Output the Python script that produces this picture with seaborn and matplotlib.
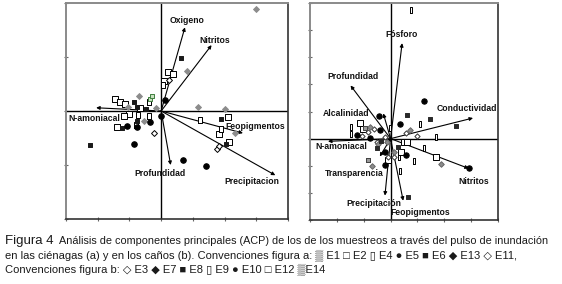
import seaborn as sns
import matplotlib.pyplot as plt
import pandas as pd

# ---- panel a (cienagas) ----
a_vars = ["Oxigeno", "Nitritos", "N-amoniacal", "Feopigmentos", "Precipitacion", "Profundidad"]
a_vec_x = [0.75, 1.59, -2.05, 2.58, 3.60, 0.30]
a_vec_y = [1.55, 1.22, 0.06, -0.41, -1.19, -1.00]
a_lab_x = [0.28, 1.22, -2.92, 2.04, 2.00, -0.84]
a_lab_y = [1.67, 1.30, -0.13, -0.28, -1.30, -1.15]

a_e13_x = [3.0, 0.80, 1.15, 2.02, 2.33, -0.71, -0.16, -0.55, -1.06]
a_e13_y = [1.89, 0.75, 0.07, 0.04, -0.41, 0.27, 0.05, -0.19, 0.07]
a_e6_x = [0.63, -0.87, -0.48, -0.76, 1.88, 2.03, -2.25, -1.23, -0.76]
a_e6_y = [0.99, 0.17, 0.03, 0.08, -0.14, -0.61, -0.63, -0.31, -0.18]
a_e5_x = [0.12, 0.0, -0.34, -0.76, -1.08, -0.87, 0.68, 1.43]
a_e5_y = [0.20, -0.09, -0.21, -0.29, -0.28, -0.62, -0.91, -1.02]
a_e2_x = [0.23, 0.37, 0.10, -1.47, -1.31, -1.13, -1.02, -0.66, -1.39, 2.11, 1.81, 2.13, -1.18]
a_e2_y = [0.72, 0.69, 0.56, 0.23, 0.17, 0.13, -0.06, 0.05, -0.29, -0.12, -0.43, -0.57, -0.09]
a_e4_x = [1.24, 1.90, -0.39, -0.78, 0.07, -0.73, -0.38]
a_e4_y = [-0.17, -0.34, -0.10, -0.26, 0.48, -0.07, 0.17]
a_e11_x = [-0.21, 1.76, 1.83, 0.25]
a_e11_y = [-0.40, -0.70, -0.64, 0.57]
a_e1_x = [-0.36, -0.28]
a_e1_y = [0.22, 0.27]

# ---- panel b (canos) ----
b_vars = ["Fósforo", "Profundidad", "Alcalinidad", "Conductividad", "N-amoniacal",
          "Nitritos", "Transparencia", "Precipitación", "Feopigmentos"]
b_vec_x = [0.43, -1.49, -0.27, 3.07, -2.33, 2.91, -0.40, -0.21, 0.47]
b_vec_y = [3.52, 1.96, 0.93, 0.76, -0.10, -1.10, -0.66, -2.10, -2.29]
b_lab_x = [-0.19, -2.35, -2.52, 1.70, -2.79, 2.54, -2.45, -1.64, 0.0]
b_lab_y = [3.83, 2.30, 0.93, 1.12, -0.28, -1.59, -1.30, -2.41, -2.74]

b_e9_x = [0.77, -1.46, -1.46, 1.09, 1.68, 1.24, 0.87, 0.31, 0.35, -0.03]
b_e9_y = [4.75, 0.44, 0.17, 0.54, 0.07, -0.36, -0.84, -0.66, -1.18, 0.38]
b_e12_x = [-1.14, -1.02, 0.50, 0.62, 1.68, -0.10, 0.37]
b_e12_y = [0.56, 0.36, -0.11, -0.11, -0.66, -0.79, -0.50]
b_e10_x = [1.24, -0.43, 0.35, -0.40, -1.24, 0.56, -0.21, -0.19, 2.91, -0.77]
b_e10_y = [1.40, 0.85, 0.54, 0.30, 0.15, -0.60, -0.50, -0.97, -1.10, 0.03]
b_e8_x = [0.62, 1.46, 2.42, -0.52, 0.27, -0.83, 0.64, -0.35]
b_e8_y = [0.87, 0.73, 0.45, -0.36, -0.30, -0.79, -2.14, -0.10]
b_e7_x = [1.88, -0.68, 0.72, -0.78, -0.12, 0.12, -0.46]
b_e7_y = [-0.93, -1.02, 0.32, 0.44, -0.14, -0.48, -0.20]
b_e3_x = [0.97, 0.59, -1.05, -0.62, -0.22, -0.52, -0.09, 0.12, -0.84]
b_e3_y = [0.11, 0.20, 0.11, 0.36, 0.05, -0.14, -0.69, -0.66, 0.23]
b_e14_x = [-0.84, -0.95]
b_e14_y = [-0.79, 0.40]

tall = [(-0.55, -1), (0.55, -1), (0.55, 1), (-0.55, 1), (-0.55, -1)]

# (x, y, marker, face, edge, size)
a_groups = [
    (a_e2_x, a_e2_y, "s", "white", "black", 16),
    (a_e4_x, a_e4_y, tall, "white", "black", 16),
    (a_e11_x, a_e11_y, "D", "white", "black", 9),
    (a_e13_x, a_e13_y, "D", "#8c8c8c", "#8c8c8c", 9),
    (a_e6_x, a_e6_y, "s", "#1a1a1a", "#1a1a1a", 12),
    (a_e5_x, a_e5_y, "o", "black", "black", 16),
    (a_e1_x, a_e1_y, "s", "#c8e0c0", "#3f7f3f", 10),
]
b_groups = [
    (b_e9_x, b_e9_y, tall, "white", "black", 14),
    (b_e12_x, b_e12_y, "s", "white", "black", 14),
    (b_e3_x, b_e3_y, "D", "white", "#333333", 7),
    (b_e7_x, b_e7_y, "D", "#8c8c8c", "#666666", 8),
    (b_e8_x, b_e8_y, "s", "#2a2a2a", "#2a2a2a", 11),
    (b_e10_x, b_e10_y, "o", "black", "black", 15),
    (b_e14_x, b_e14_y, "s", "#9a9a9a", "#444444", 10),
]

sns.set_style("white")
fig = plt.figure(figsize=(5.62, 2.84), dpi=100)
ax_a = fig.add_axes([66 / 562, 1 - 219 / 284, 222 / 562, 216 / 284])
ax_b = fig.add_axes([310 / 562, 1 - 220 / 284, 188 / 562, 217 / 284])

lab_font = ["Liberation Sans", "DejaVu Sans"]


def draw_panel(ax, groups, vx, vy, names, lx, ly, xlim, ylim):
    ax.axhline(0, color="black", lw=1, zorder=1)
    ax.axvline(0, color="black", lw=1, zorder=1)
    for gx, gy, mk, fc, ec, s in groups:
        df = pd.DataFrame({"x": gx, "y": gy})
        sns.scatterplot(data=df, x="x", y="y", ax=ax, marker=mk, s=s,
                        color=fc, edgecolor=ec, linewidth=0.7, zorder=3)
    for x, y in zip(vx, vy):
        ax.annotate("", xy=(x, y), xytext=(0, 0),
                    arrowprops=dict(arrowstyle="-|>", color="black", lw=0.8,
                                    mutation_scale=5, shrinkA=0, shrinkB=0),
                    zorder=2)
    for name, x, y in zip(names, lx, ly):
        ax.text(x, y, name, fontsize=6.2, fontweight="bold", family=lab_font,
                color="#111111", ha="left", va="center", zorder=4)
    ax.set_xlim(*xlim)
    ax.set_ylim(*ylim)
    ax.set_xticks(range(xlim[0], xlim[1] + 1))
    ax.set_yticks(range(ylim[0], ylim[1] + 1))
    ax.set_xticklabels([])
    ax.set_yticklabels([])
    ax.set_xlabel("")
    ax.set_ylabel("")
    ax.tick_params(direction="inout", length=3, width=0.8, color="#666666",
                   bottom=True, left=True)
    for side in ["left", "top"]:
        ax.spines[side].set_color("#8a8a8a")
        ax.spines[side].set_linewidth(1.4)
    for side in ["right", "bottom"]:
        ax.spines[side].set_color("#333333")
        ax.spines[side].set_linewidth(1.2)


draw_panel(ax_a, a_groups, a_vec_x, a_vec_y, a_vars, a_lab_x, a_lab_y, (-3, 4), (-2, 2))
draw_panel(ax_b, b_groups, b_vec_x, b_vec_y, b_vars, b_lab_x, b_lab_y, (-3, 4), (-3, 5))

# ---- caption ----
cap_font = ["Liberation Sans", "DejaVu Sans"]
x0 = 5 / 562
fig.text(x0, 1 - 244 / 284, "Figura 4", fontsize=9.5, family=cap_font,
         color="#1a1a1a", va="baseline")
fig.text(59 / 562, 1 - 244 / 284,
         "Análisis de componentes principales (ACP) de los de los muestreos a través del pulso de inundación",
         fontsize=7.8, family=cap_font, color="#1a1a1a", va="baseline")
fig.text(x0, 1 - 258 / 284,
         "en las ciénagas (a) y en los caños (b). Convenciones figura a: \u2592 E1 \u25a1 E2 \u25af E4 "
         "\u25cf E5 \u25a0 E6 \u25c6 E13 \u25c7 E11,",
         fontsize=8.0, family=cap_font, color="#1a1a1a", va="baseline")
fig.text(x0, 1 - 272 / 284,
         "Convenciones figura b: \u25c7 E3 \u25c6 E7 \u25a0 E8 \u25af E9 \u25cf E10 \u25a1 E12 \u2592E14",
         fontsize=8.0, family=cap_font, color="#1a1a1a", va="baseline")

fig.savefig("out.png", dpi=100)
